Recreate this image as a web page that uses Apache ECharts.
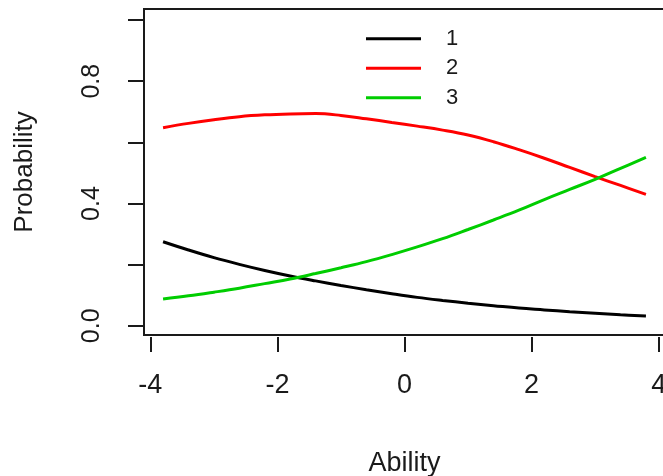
<!DOCTYPE html>
<html>
<head>
<meta charset="utf-8">
<script src="https://cdn.jsdelivr.net/npm/echarts@6/dist/echarts.min.js"></script>
<style>
  html, body { margin: 0; padding: 0; background: #ffffff; }
  #chart { width: 663px; height: 476px; }
</style>
</head>
<body>
<div id="chart"></div>
<script>
// Ability grid on which the category curves are sampled
const ability = [-3.8, -3.4, -3.0, -2.6, -2.2, -1.8, -1.4, -1.0, -0.6, -0.2,
                  0.2,  0.6,  1.0,  1.4,  1.8,  2.2,  2.6,  3.0,  3.4,  3.8];

// Category response probabilities
const cat1 = [0.275, 0.248, 0.223, 0.201, 0.181, 0.163, 0.147, 0.132, 0.118, 0.105,
              0.093, 0.083, 0.074, 0.066, 0.058, 0.052, 0.046, 0.041, 0.036, 0.032];
const cat2 = [0.648, 0.662, 0.674, 0.684, 0.690, 0.693, 0.694, 0.688, 0.677, 0.665,
              0.653, 0.640, 0.624, 0.602, 0.576, 0.548, 0.518, 0.488, 0.459, 0.430];
const cat3 = [0.088, 0.098, 0.110, 0.123, 0.138, 0.153, 0.171, 0.190, 0.210, 0.233,
              0.258, 0.285, 0.315, 0.346, 0.378, 0.413, 0.446, 0.479, 0.515, 0.551];

const categoryNames = ['1', '2', '3'];
const categoryColors = ['#000000', '#ff0000', '#00cd00'];

// Axis ticks and labels
const xTicks = [-4, -2, 0, 2, 4];
const yTicks = [0, 0.2, 0.4, 0.6, 0.8, 1.0];
const yLabels = [0, 0.4, 0.8];

const FONT = "'Liberation Sans', Arial, sans-serif";

const chart = echarts.init(document.getElementById('chart'), null, { renderer: 'canvas' });

const curves = [cat1, cat2, cat3];

chart.setOption({
  backgroundColor: '#ffffff',
  animation: false,
  grid: {
    left: 144, right: -2, top: 9, bottom: 141,
    containLabel: false,
    outerBoundsMode: 'none',
    show: true, borderColor: '#1a1a1a', borderWidth: 2, backgroundColor: 'transparent'
  },
  legend: {
    data: categoryNames,
    orient: 'vertical',
    left: 361, top: 19,
    icon: 'rect',
    itemWidth: 55, itemHeight: 3,
    itemGap: 0,
    textStyle: { fontFamily: FONT, fontSize: 22, color: '#1a1a1a', padding: [0, 0, 0, 20], lineHeight: 29.5 },
    selectedMode: false
  },
  xAxis: {
    type: 'value',
    min: -4.1, max: 4.1,
    offset: 2,
    name: 'Ability',
    nameLocation: 'middle',
    nameGap: 113,
    nameTextStyle: { fontFamily: FONT, fontSize: 27, color: '#1a1a1a' },
    axisLine: { show: false, onZero: false },
    splitLine: { show: false },
    axisTick: { show: true, length: 15, customValues: xTicks, lineStyle: { color: '#1a1a1a', width: 2 } },
    axisLabel: { customValues: xTicks, margin: 35, fontFamily: FONT, fontSize: 27, color: '#1a1a1a',
                 formatter: v => String(v) }
  },
  yAxis: {
    type: 'value',
    min: -0.030, max: 1.036,
    name: 'Probability',
    nameLocation: 'middle',
    nameGap: 106,
    nameRotate: 90,
    nameTextStyle: { fontFamily: FONT, fontSize: 26, color: '#1a1a1a' },
    axisLine: { show: false, onZero: false },
    splitLine: { show: false },
    axisTick: { show: true, length: 16, customValues: yTicks, lineStyle: { color: '#1a1a1a', width: 2 } },
    axisLabel: { customValues: yLabels, rotate: 90, margin: 39, fontFamily: FONT, fontSize: 25, color: '#1a1a1a',
                 formatter: v => v.toFixed(1) }
  },
  series: curves.map((vals, k) => ({
    name: categoryNames[k],
    type: 'line',
    data: ability.map((a, i) => [a, vals[i]]),
    showSymbol: false,
    smooth: 0.4,
    color: categoryColors[k],
    lineStyle: { width: 3, color: categoryColors[k] }
  }))
});
</script>
</body>
</html>
